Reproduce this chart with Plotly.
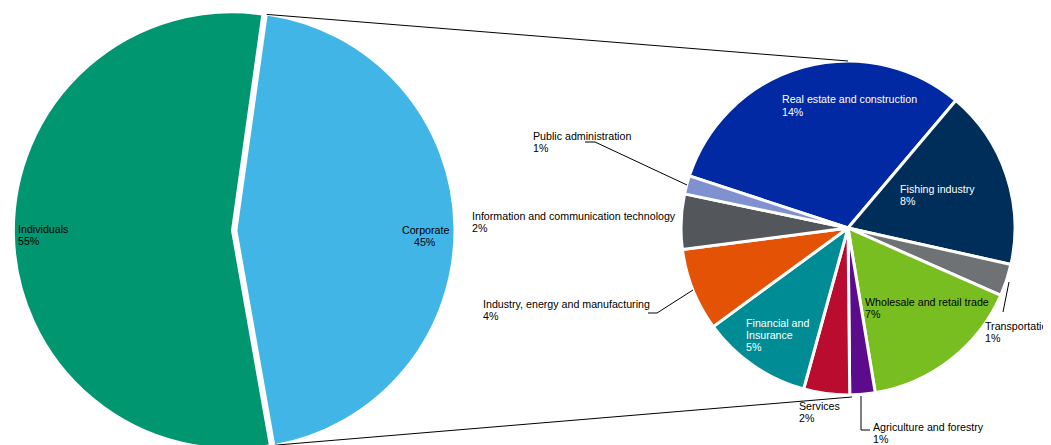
import math
import plotly.graph_objects as go

W, H = 1051, 445
OFF = 8  # page body margin: screen = figure + 8

# ---- data ----
main_labels = ["Corporate", "Individuals"]
main_values = [45, 55]
main_pct = ["45%", "55%"]
main_colors = ["#41B6E6", "#00966F"]

sector_labels = [
    "Real estate and construction",
    "Fishing industry",
    "Transportation",
    "Wholesale and retail trade",
    "Agriculture and forestry",
    "Services",
    "Financial and Insurance",
    "Industry, energy and manufacturing",
    "Information and communication technology",
    "Public administration",
]
sector_values = [14.0, 7.8, 1.4, 7.1, 1.1, 2.0, 4.8, 3.6, 2.4, 0.8]
sector_pct = ["14%", "8%", "1%", "7%", "1%", "2%", "5%", "4%", "2%", "1%"]
sector_colors = [
    "#0029A3", "#002E5B", "#6F7275", "#78BE21", "#5B0B8C",
    "#BA0C2F", "#008C95", "#E35205", "#53565A", "#8091D0",
]

FONT = "Liberation Sans, Arial, sans-serif"
FS = 10.67
LINE = 12.3

# ---- geometry (figure pixels) ----
L_DOM = (0, 448)          # left pie domain (x, px)
L_PULL = 0.02
L_ROT = 8
R_CX, R_CY, R_R = 840, 220, 167
R_ROT = -71.8

def fx(x):   # figure px -> paper
    return x / W

def fy(y):
    return 1 - y / H

def sx(x):   # screen px (reference picture) -> paper
    return (x - OFF) / W

def sy(y):
    return 1 - (y - OFF) / H

fig = go.Figure()

fig.add_trace(go.Pie(
    labels=main_labels, values=main_values, sort=False,
    direction="clockwise", rotation=L_ROT,
    pull=[L_PULL, 0],
    marker=dict(colors=main_colors, line=dict(color="white", width=2)),
    textinfo="none", hoverinfo="label+percent",
    domain=dict(x=[fx(L_DOM[0]), fx(L_DOM[1])], y=[0, 1]),
    showlegend=False,
))

fig.add_trace(go.Pie(
    labels=sector_labels, values=sector_values, sort=False,
    direction="clockwise", rotation=R_ROT,
    marker=dict(colors=sector_colors, line=dict(color="white", width=3)),
    textinfo="none", hoverinfo="label+value",
    domain=dict(x=[fx(R_CX - R_R), fx(R_CX + R_R)],
                y=[fy(R_CY + R_R), fy(R_CY - R_R)]),
    showlegend=False,
))

# ---- series lines computed from the pie geometry ----
lw, lh = L_DOM[1] - L_DOM[0], H
lr = min(lw, lh) / (2 + 2 * L_PULL)
lcx, lcy = (L_DOM[0] + L_DOM[1]) / 2, H / 2
tot = sum(main_values)
a0 = math.radians(L_ROT)
a1 = math.radians(L_ROT + 360 * main_values[0] / tot)
amid = (a0 + a1) / 2
ox, oy = L_PULL * lr * math.sin(amid), -L_PULL * lr * math.cos(amid)
top_pt = (lcx + ox + lr * math.sin(a0), lcy + oy - lr * math.cos(a0))
bot_pt = (lcx + ox + lr * math.sin(a1), lcy + oy - lr * math.cos(a1))

shapes = []
def seg_fig(p, q):
    shapes.append(dict(type="line", xref="paper", yref="paper",
                       x0=fx(p[0]), y0=fy(p[1]), x1=fx(q[0]), y1=fy(q[1]),
                       line=dict(color="black", width=1)))

def seg(p, q):  # screen coords
    seg_fig((p[0] - OFF, p[1] - OFF), (q[0] - OFF, q[1] - OFF))

seg_fig(top_pt, (R_CX, R_CY - R_R))
seg_fig(bot_pt, (R_CX + 4, R_CY + R_R + 2))

# leader lines (reference screen coords)
seg((585, 142), (595, 142)); seg((595, 142), (687, 185))
seg((648, 313), (657, 313)); seg((657, 313), (693, 290))
seg((1009, 282), (1003, 312))
seg((861, 396), (861, 430)); seg((861, 430), (870, 430))

# ---- labels ----
annotations = []
def label(lines, x, y_first, color="black", anchor="left"):
    for i, t in enumerate(lines):
        annotations.append(dict(
            text=t, x=sx(x), y=sy(y_first + i * LINE), xref="paper", yref="paper",
            xanchor=anchor, yanchor="middle", showarrow=False, borderpad=0,
            font=dict(family=FONT, size=FS, color=color)))

label([main_labels[1], main_pct[1]], 17, 229)
label([main_labels[0], main_pct[0]], 425, 230, anchor="center")

label([sector_labels[0], sector_pct[0]], 781, 99.5, color="white")
label([sector_labels[1], sector_pct[1]], 899, 188.5, color="white")
label([sector_labels[2], sector_pct[2]], 984, 326)
label([sector_labels[3], sector_pct[3]], 864, 301.5)
label([sector_labels[4], sector_pct[4]], 872, 426.5)
label([sector_labels[5], sector_pct[5]], 798, 406)
label(["Financial and", "Insurance", sector_pct[6]], 745, 322.5, color="white")
label([sector_labels[7], sector_pct[7]], 482, 304)
label([sector_labels[8], sector_pct[8]], 471, 216)
label([sector_labels[9], sector_pct[9]], 532, 136)

fig.update_layout(
    width=W, height=H,
    margin=dict(l=0, r=0, t=0, b=0),
    paper_bgcolor="white", plot_bgcolor="white",
    showlegend=False,
    shapes=shapes, annotations=annotations,
    font=dict(family=FONT, size=FS),
)

fig.write_html("out.html")
